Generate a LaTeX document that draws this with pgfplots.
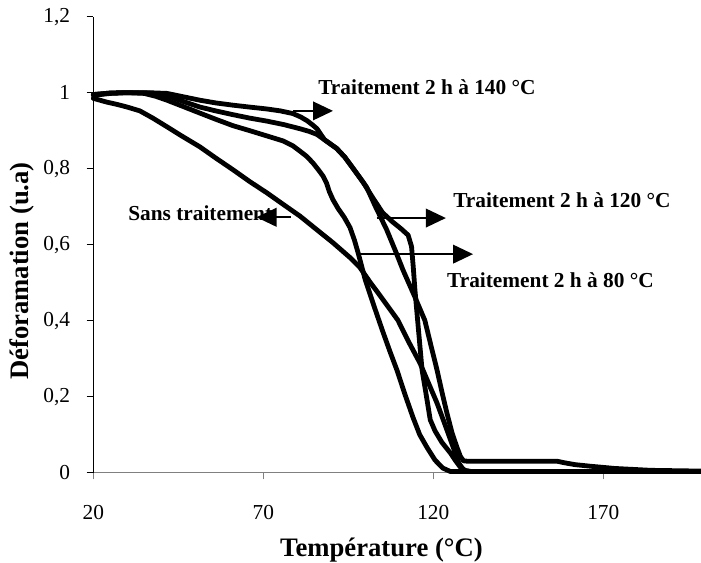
\documentclass[border=0pt]{standalone}
\usepackage{fontspec}
\setmainfont{Liberation Serif}
\usepackage{pgfplots}
\pgfplotsset{compat=1.18}
\usetikzlibrary{arrows.meta}

\begin{document}
\begin{tikzpicture}
\begin{axis}[
  at={(0,0)}, anchor=south west,
  scale only axis, width=456.45pt, height=342pt,
  xmin=20, xmax=199, ymin=0, ymax=1.2,
  axis x line=bottom, axis y line=left,
  x axis line style={-, draw=gray, line width=0.75pt},
  y axis line style={-, draw=black, line width=0.75pt},
  xtick={20,70,120,170}, ytick={0,0.2,0.4,0.6,0.8,1,1.2},
  tick align=outside, major tick length=5pt,
  x tick style={draw=gray, line width=0.75pt},
  y tick style={draw=black, line width=0.75pt},
  /pgf/number format/assume math mode=true,
  /pgf/number format/use comma,
  ticklabel style={font=\fontsize{16}{19}\selectfont},
  xticklabel style={anchor=base, yshift=-30.2pt},
  yticklabel style={anchor=east, inner sep=0pt, xshift=-12.2pt},
  xlabel={Température (°C)},
  xlabel style={at={(axis description cs:0.4735,-0.185)}, anchor=base, font=\bfseries\fontsize{20}{24}\selectfont},
  ylabel={Déforamation (u.a)},
  ylabel style={at={(axis description cs:-0.117,0.442)}, anchor=center, font=\bfseries\fontsize{20}{24}\selectfont},
  clip=false,
  curve/.style={black, line width=3.6pt, line join=round, line cap=round, no marks},
]
% Sans traitement
\addplot[curve] coordinates {(20,0.985)(24,0.975)(27,0.969)(30,0.962)(33.7,0.952)(37.5,0.933)(41.7,0.910)(46,0.886)(51.4,0.857)(56,0.828)(61.1,0.797)(66,0.766)(71.1,0.736)(76,0.705)(80.8,0.675)(85.5,0.641)(90.5,0.605)(95.5,0.566)(98.4,0.540)(101.5,0.50)(104,0.47)(109.6,0.401)(113,0.34)(116.1,0.288)(121.1,0.183)(123.5,0.125)(125.8,0.068)(127.5,0.025)(129,0.006)(131,0.003)(199,0.003)};
% 80 C
\addplot[curve] coordinates {(20,0.993)(25,0.998)(30,1.0)(35,0.998)(38.5,0.99)(41.7,0.980)(46,0.965)(51.4,0.946)(56,0.93)(61.1,0.913)(66,0.9)(71.1,0.886)(75.8,0.873)(78.7,0.86)(80.8,0.846)(82.8,0.832)(84.6,0.815)(86.2,0.797)(87.6,0.78)(88.6,0.762)(89.4,0.74)(90.5,0.718)(92,0.695)(93.8,0.672)(95.5,0.645)(96.8,0.612)(97.9,0.578)(100,0.507)(102.5,0.44)(105,0.375)(107.2,0.32)(109.3,0.27)(111.7,0.205)(114,0.146)(116,0.1)(118.1,0.067)(120.5,0.033)(122.8,0.012)(125,0.003)(199,0.003)};
% 120 C
\addplot[curve] coordinates {(20,0.995)(25,0.999)(30,1.0)(35,1.0)(40,0.996)(43,0.988)(46,0.978)(51.4,0.962)(56,0.952)(61.1,0.942)(66,0.933)(71.1,0.925)(76,0.916)(80.8,0.905)(83.5,0.898)(85.8,0.89)(88,0.876)(91.6,0.853)(94,0.83)(96.3,0.802)(99.3,0.765)(102.3,0.722)(105.1,0.684)(108,0.66)(110.5,0.642)(112.6,0.625)(113.6,0.595)(114.1,0.542)(114.6,0.481)(115.5,0.39)(116.7,0.27)(118,0.2)(119.1,0.139)(120.5,0.11)(122.5,0.08)(125,0.052)(126.5,0.032)(127.9,0.015)(129.5,0.005)(131,0.003)(199,0.003)};
% 140 C
\addplot[curve] coordinates {(20,0.995)(25,0.999)(30,1.0)(36,1.0)(41.7,0.998)(46,0.99)(51.4,0.98)(56,0.973)(61.1,0.967)(66,0.962)(71.1,0.957)(75,0.952)(78.7,0.945)(81,0.936)(82.9,0.926)(84.5,0.915)(85.8,0.905)(88,0.876)(91.6,0.853)(94,0.83)(96.3,0.802)(98.5,0.775)(100.4,0.751)(103,0.70)(106.3,0.639)(108.8,0.585)(111.1,0.533)(114.6,0.462)(117.5,0.401)(119.3,0.335)(121.1,0.27)(122.6,0.21)(124,0.157)(125.5,0.105)(126.9,0.068)(128,0.042)(128.9,0.031)(130,0.03)(156.4,0.03)(158.5,0.026)(161.7,0.021)(166,0.017)(173.3,0.011)(184,0.006)(199,0.004)};

\node[anchor=base west, font=\bfseries\fontsize{16}{19}\selectfont, inner sep=0pt] at (axis cs:86.1,0.995) {Traitement 2 h à 140 °C};
\node[anchor=base west, font=\bfseries\fontsize{16}{19}\selectfont, inner sep=0pt] at (axis cs:125.8,0.697) {Traitement 2 h à 120 °C};
\node[anchor=base west, font=\bfseries\fontsize{16}{19}\selectfont, inner sep=0pt] at (axis cs:124.0,0.486) {Traitement 2 h à 80 °C};
\node[anchor=base west, font=\bfseries\fontsize{16}{19}\selectfont, inner sep=0pt] at (axis cs:30.2,0.664) {Sans traitement};

\draw[line width=1.2pt, -{Triangle[length=15pt,width=14pt]}] (axis cs:78.7,0.952) -- (axis cs:90.5,0.952);
\draw[line width=1.2pt, -{Triangle[length=15pt,width=14pt]}] (axis cs:103.3,0.670) -- (axis cs:123.7,0.670);
\draw[line width=1.2pt, -{Triangle[length=15pt,width=14pt]}] (axis cs:97.6,0.575) -- (axis cs:131.7,0.575);
\draw[line width=1.2pt, -{Triangle[length=15pt,width=14pt]}] (axis cs:78.1,0.672) -- (axis cs:68.0,0.672);
\end{axis}
\pgfresetboundingbox
\path[use as bounding box] (-70pt,-67.7pt) rectangle (455.8pt,354.5pt);
\end{tikzpicture}
\end{document}
